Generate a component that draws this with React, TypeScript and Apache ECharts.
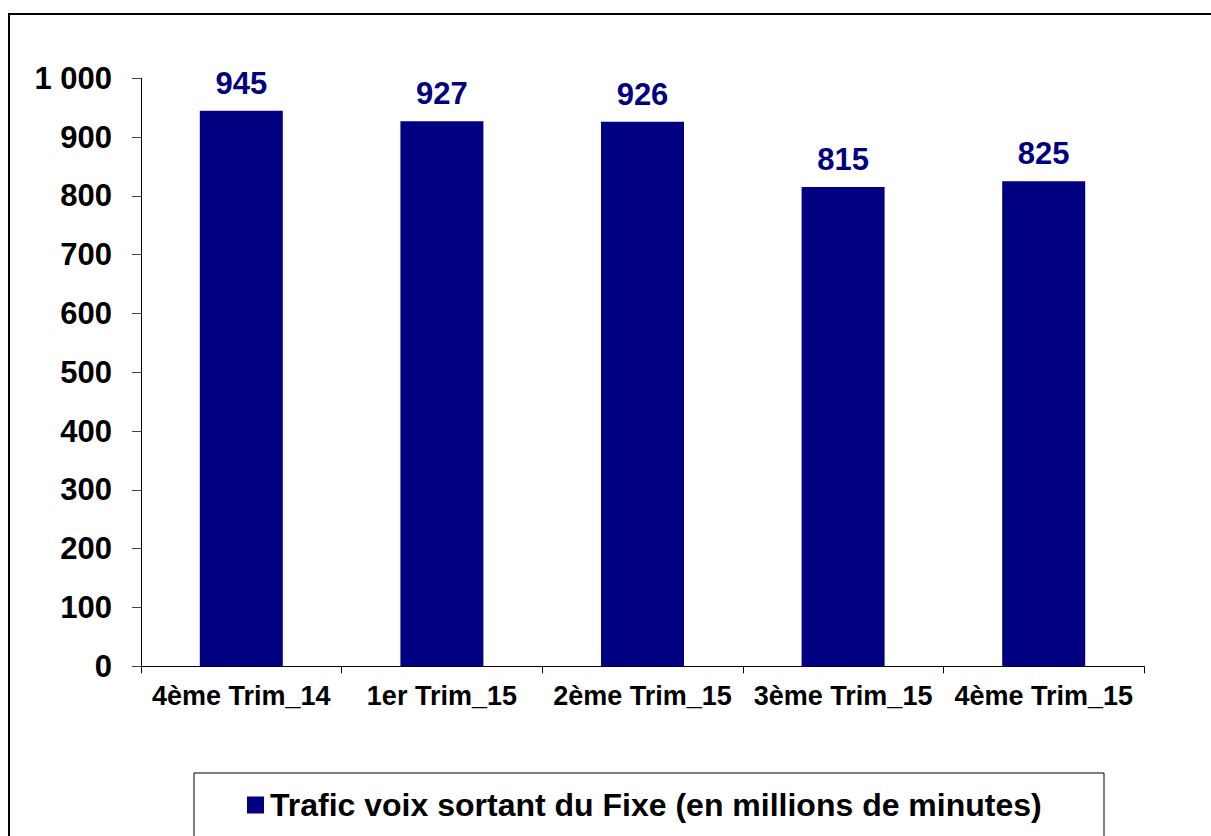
import React, { useEffect, useRef } from "react";
import * as echarts from "echarts";

const categories = ["4ème Trim_14", "1er Trim_15", "2ème Trim_15", "3ème Trim_15", "4ème Trim_15"];
const values = [945, 927, 926, 815, 825];
const seriesName = "Trafic voix sortant du Fixe (en millions de minutes)";
const yMin = 0;
const yMax = 1000;
const yInterval = 100;

const FONT = "'Liberation Sans', Arial, sans-serif";
const NAVY = "#000080";

function fmt(v: number): string {
  return String(v).replace(/\B(?=(\d{3})+(?!\d))/g, " ");
}

export default function App() {
  const ref = useRef<HTMLDivElement>(null);
  useEffect(() => {
    if (!ref.current) return;
    const chart = echarts.init(ref.current, null, { renderer: "svg" });
    chart.setOption({
      animation: false,
      backgroundColor: "#ffffff",
      textStyle: { fontFamily: FONT },
      grid: { left: 141, right: 67, top: 78.3, bottom: 169.7, containLabel: false },
      xAxis: {
        type: "category",
        data: categories,
        axisLine: { lineStyle: { color: "#000", width: 1 } },
        axisTick: { show: true, length: 7, lineStyle: { color: "#000" } },
        axisLabel: {
          color: "#000",
          fontWeight: "bold",
          fontSize: 27,
          fontFamily: FONT,
          margin: 16,
          interval: 0,
          hideOverlap: false,
        },
      },
      yAxis: {
        type: "value",
        min: yMin,
        max: yMax,
        interval: yInterval,
        splitLine: { show: false },
        axisLine: { show: true, lineStyle: { color: "#000", width: 1 } },
        axisTick: { show: true, length: 9, lineStyle: { color: "#444" } },
        axisLabel: {
          color: "#000",
          fontWeight: "bold",
          fontSize: 31,
          fontFamily: FONT,
          margin: 29,
          formatter: (v: number) => fmt(v),
        },
      },
      legend: {
        show: true,
        left: 247,
        top: 789,
        padding: 0,
        icon: "rect",
        itemWidth: 17,
        itemHeight: 17,
        itemGap: 6,
        textStyle: { color: "#000", fontWeight: "bold", fontSize: 32, fontFamily: FONT, padding: [0, 0, 0, 1] },
        data: [seriesName],
      },
      graphic: [
        {
          type: "rect",
          shape: { x: 9, y: 14, width: 1400, height: 1000 },
          style: { fill: "none", stroke: "#000", lineWidth: 2 },
          silent: true,
        },
        {
          type: "rect",
          shape: { x: 194, y: 773, width: 910, height: 200 },
          style: { fill: "none", stroke: "#000", lineWidth: 1 },
          silent: true,
        },
      ],
      series: [
        {
          name: seriesName,
          type: "bar",
          data: values,
          barWidth: 83,
          itemStyle: { color: NAVY },
          label: {
            show: true,
            position: "top",
            distance: 12,
            color: NAVY,
            fontWeight: "bold",
            fontSize: 31,
            fontFamily: FONT,
          },
        },
      ],
    });
    return () => chart.dispose();
  }, []);
  return (
    <div
      ref={ref}
      style={{ position: "fixed", left: 0, top: 0, width: 1211, height: 836, background: "#fff" }}
    />
  );
}
